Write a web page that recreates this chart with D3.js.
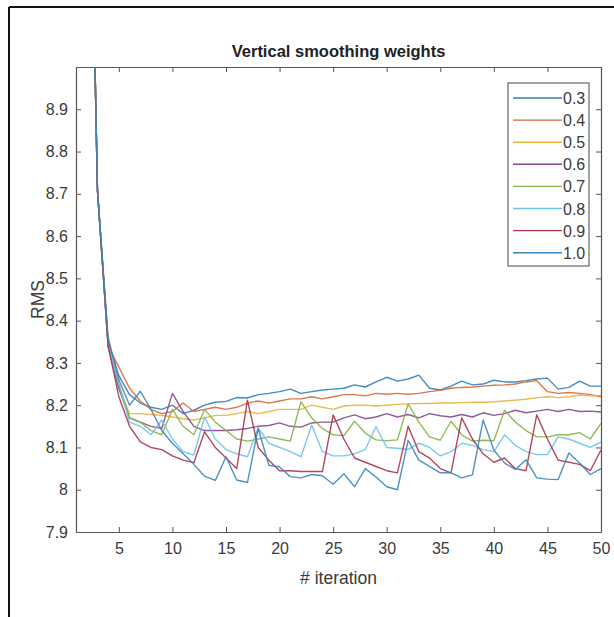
<!DOCTYPE html>
<html>
<head>
<meta charset="utf-8">
<script src="https://cdn.jsdelivr.net/npm/d3@7"></script>
<style>
  html, body { margin: 0; padding: 0; background: #fff; }
  svg { display: block; }
  text { font-family: "Liberation Sans", Arial, Helvetica, sans-serif; }
</style>
</head>
<body>
<svg id="chart" width="614" height="617"></svg>
<script>
// Iteration index 1..50
const iterations = d3.range(1, 51);

// RMS per iteration for each vertical smoothing weight
const w03 = [11.8,10.0,8.71,8.35,8.27,8.225,8.205,8.195,8.19,8.2,
             8.18,8.188,8.2,8.207,8.209,8.218,8.217,8.225,8.228,8.232,
             8.238,8.228,8.232,8.236,8.238,8.24,8.248,8.243,8.255,8.266,
             8.257,8.262,8.271,8.24,8.236,8.245,8.257,8.248,8.25,8.259,
             8.255,8.255,8.258,8.262,8.264,8.238,8.242,8.257,8.245,8.245];
const w04 = [11.8,10.0,8.71,8.34,8.29,8.24,8.21,8.19,8.18,8.185,
             8.205,8.185,8.19,8.195,8.19,8.195,8.205,8.21,8.205,8.21,
             8.215,8.215,8.22,8.215,8.22,8.225,8.225,8.222,8.228,8.226,
             8.228,8.226,8.228,8.232,8.235,8.24,8.242,8.243,8.245,8.247,
             8.248,8.25,8.255,8.258,8.232,8.228,8.23,8.228,8.225,8.22];
const w05 = [11.8,10.0,8.71,8.34,8.24,8.18,8.18,8.178,8.176,8.172,
             8.168,8.165,8.17,8.176,8.176,8.18,8.185,8.18,8.185,8.19,
             8.19,8.19,8.2,8.195,8.19,8.198,8.2,8.2,8.198,8.2,
             8.202,8.203,8.204,8.204,8.205,8.205,8.206,8.207,8.207,8.208,
             8.21,8.212,8.214,8.218,8.22,8.218,8.22,8.224,8.222,8.223];
const w06 = [11.8,10.0,8.71,8.34,8.24,8.17,8.16,8.15,8.145,8.228,
             8.185,8.15,8.14,8.14,8.14,8.142,8.145,8.15,8.152,8.158,
             8.15,8.148,8.158,8.16,8.16,8.17,8.177,8.168,8.172,8.18,
             8.172,8.178,8.17,8.18,8.175,8.172,8.178,8.172,8.182,8.176,
             8.18,8.188,8.182,8.186,8.19,8.185,8.19,8.185,8.186,8.184];
const w07 = [11.8,10.0,8.71,8.34,8.25,8.17,8.16,8.14,8.13,8.19,
             8.15,8.13,8.19,8.16,8.14,8.12,8.115,8.12,8.125,8.12,
             8.115,8.208,8.17,8.145,8.13,8.128,8.162,8.134,8.118,8.116,
             8.118,8.203,8.16,8.125,8.117,8.162,8.13,8.115,8.117,8.116,
             8.188,8.16,8.14,8.125,8.125,8.13,8.13,8.135,8.12,8.157];
const w08 = [11.8,10.0,8.71,8.34,8.25,8.16,8.15,8.13,8.165,8.12,
             8.09,8.082,8.172,8.12,8.095,8.085,8.078,8.146,8.11,8.1,
             8.09,8.078,8.153,8.09,8.08,8.08,8.085,8.095,8.149,8.1,
             8.098,8.095,8.11,8.1,8.08,8.09,8.11,8.105,8.095,8.09,
             8.13,8.105,8.09,8.083,8.083,8.125,8.12,8.11,8.1,8.113];
const w09 = [11.8,10.0,8.71,8.34,8.22,8.15,8.113,8.1,8.095,8.08,
             8.07,8.064,8.137,8.1,8.075,8.05,8.212,8.1,8.07,8.045,
             8.045,8.043,8.043,8.043,8.177,8.12,8.075,8.065,8.055,8.045,
             8.04,8.15,8.09,8.075,8.05,8.04,8.17,8.12,8.085,8.065,
             8.075,8.05,8.045,8.177,8.12,8.07,8.065,8.06,8.045,8.094];
const w10 = [11.8,10.0,8.71,8.36,8.26,8.2,8.233,8.19,8.14,8.11,
             8.085,8.06,8.032,8.022,8.078,8.023,8.017,8.145,8.058,8.054,
             8.031,8.028,8.036,8.033,8.013,8.038,8.007,8.05,8.03,8.007,
             8.0,8.117,8.07,8.055,8.04,8.04,8.028,8.035,8.165,8.094,
             8.063,8.048,8.071,8.028,8.025,8.024,8.087,8.063,8.036,8.05];

const seriesNames = ["0.3","0.4","0.5","0.6","0.7","0.8","0.9","1.0"];
const seriesValues = [w03, w04, w05, w06, w07, w08, w09, w10];
const seriesColors = ["#2f7fb8","#d9683a","#e9b43a","#85478f","#86b247",
                      "#6cc3ea","#a8344a","#3a86bd"];

const xTicks = [5,10,15,20,25,30,35,40,45,50];
const yTicks = [7.9,8,8.1,8.2,8.3,8.4,8.5,8.6,8.7,8.8,8.9];

const svg = d3.select("#chart");

// outer frame (top and left edges)
svg.append("line").attr("x1", 9).attr("y1", 7).attr("x2", 614).attr("y2", 7)
  .attr("stroke", "#111").attr("stroke-width", 2);
svg.append("line").attr("x1", 9).attr("y1", 7).attr("x2", 9).attr("y2", 617)
  .attr("stroke", "#111").attr("stroke-width", 2);

const plot = { left: 76, right: 601, top: 67, bottom: 532 };

const x = d3.scaleLinear().domain([1, 50]).range([plot.left, plot.right]);
const y = d3.scaleLinear().domain([7.9, 9.0]).range([plot.bottom, plot.top]);

const axisColor = "#555";
const labelColor = "#3a3a3a";

svg.append("defs").append("clipPath").attr("id", "plotClip")
  .append("rect")
  .attr("x", plot.left).attr("y", plot.top)
  .attr("width", plot.right - plot.left).attr("height", plot.bottom - plot.top);

// axes (ticks pointing inward, MATLAB style)
const tickLen = 5;
const fmtY = d => d3.format("~g")(d);

const gBottom = svg.append("g").attr("transform", `translate(0,${plot.bottom})`)
  .call(d3.axisBottom(x).tickValues(xTicks).tickSizeInner(-tickLen).tickSizeOuter(0).tickPadding(11));
const gTop = svg.append("g").attr("transform", `translate(0,${plot.top})`)
  .call(d3.axisTop(x).tickValues(xTicks).tickSizeInner(-tickLen).tickSizeOuter(0).tickFormat(""));
const gLeft = svg.append("g").attr("transform", `translate(${plot.left},0)`)
  .call(d3.axisLeft(y).tickValues(yTicks).tickSizeInner(-tickLen).tickSizeOuter(0).tickPadding(8).tickFormat(fmtY));
const gRight = svg.append("g").attr("transform", `translate(${plot.right},0)`)
  .call(d3.axisRight(y).tickValues(yTicks).tickSizeInner(-tickLen).tickSizeOuter(0).tickFormat(""));

[gBottom, gTop, gLeft, gRight].forEach(g => {
  g.select(".domain").attr("stroke", axisColor).attr("stroke-width", 1.2);
  g.selectAll(".tick line").attr("stroke", axisColor);
  g.selectAll(".tick text").attr("fill", labelColor)
    .style("font-family", '"Liberation Sans", Arial, sans-serif')
    .style("font-size", "16px");
});

// data lines
const line = d3.line().x((d, i) => x(iterations[i])).y(d => y(d));
const gLines = svg.append("g").attr("clip-path", "url(#plotClip)");
seriesValues.forEach((vals, k) => {
  gLines.append("path")
    .datum(vals)
    .attr("d", line)
    .attr("fill", "none")
    .attr("stroke", seriesColors[k])
    .attr("stroke-width", 1.4)
    .attr("stroke-linejoin", "round")
    .attr("opacity", 0.9);
});

// title and axis labels
svg.append("text").attr("x", (plot.left + plot.right) / 2).attr("y", 57)
  .attr("text-anchor", "middle").attr("font-size", 16.5).attr("font-weight", "bold")
  .attr("fill", "#222").text("Vertical smoothing weights");

svg.append("text").attr("x", (plot.left + plot.right) / 2).attr("y", 584)
  .attr("text-anchor", "middle").attr("font-size", 17.5)
  .attr("fill", labelColor).text("# iteration");

svg.append("text")
  .attr("transform", `translate(44,${(plot.top + plot.bottom) / 2}) rotate(-90)`)
  .attr("text-anchor", "middle").attr("font-size", 17.5)
  .attr("fill", labelColor).text("RMS");

// legend
const legend = svg.append("g");
legend.append("rect").attr("x", 508).attr("y", 83).attr("width", 81).attr("height", 183)
  .attr("fill", "#fff").attr("stroke", "#666").attr("stroke-width", 1.2);
seriesNames.forEach((name, k) => {
  const ly = 98 + k * 22.1;
  legend.append("line").attr("x1", 513).attr("x2", 562).attr("y1", ly).attr("y2", ly)
    .attr("stroke", seriesColors[k]).attr("stroke-width", 1.4);
  legend.append("text").attr("x", 563).attr("y", ly + 6).attr("font-size", 16)
    .attr("fill", labelColor).text(name);
});
</script>
</body>
</html>
